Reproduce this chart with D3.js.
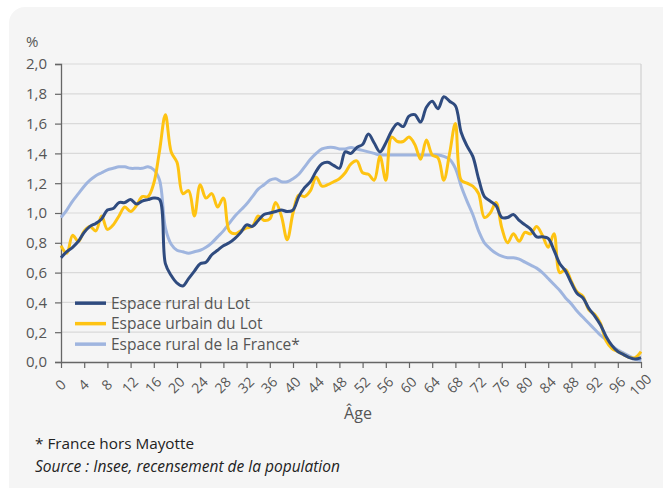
<!DOCTYPE html>
<html>
<head>
<meta charset="utf-8">
<script src="https://cdn.jsdelivr.net/npm/d3@7"></script>
<style>
  body { margin: 0; background: #fff; }
  svg { display: block; font-family: "Open Sans", sans-serif; }
</style>
</head>
<body>
<div id="chart"></div>
<script>
// ages 0..100
var ages = d3.range(0, 101)

var ruralLot = [0.70,0.74,0.77,0.81,0.87,0.91,0.93,0.96,1.02,1.03,
  1.07,1.07,1.09,1.06,1.08,1.09,1.10,1.09,0.66,0.58,
  0.53,0.51,0.56,0.61,0.66,0.67,0.72,0.75,0.78,0.80,
  0.83,0.87,0.92,0.91,0.95,0.99,1.00,1.01,1.02,1.01,
  1.02,1.11,1.17,1.21,1.28,1.33,1.34,1.32,1.30,1.41,
  1.40,1.44,1.46,1.53,1.47,1.41,1.47,1.55,1.60,1.58,
  1.65,1.66,1.61,1.71,1.75,1.70,1.78,1.75,1.72,1.54,
  1.45,1.38,1.23,1.11,1.08,1.05,0.97,0.97,0.99,0.95,
  0.92,0.89,0.84,0.84,0.83,0.75,0.66,0.61,0.53,0.46,
  0.43,0.36,0.31,0.25,0.17,0.11,0.07,0.05,0.03,0.02,
  0.03]

var urbainLot = [0.78,0.73,0.85,0.81,0.88,0.91,0.88,0.98,0.89,0.92,
  0.98,1.04,1.01,1.05,1.11,1.11,1.20,1.42,1.66,1.41,
  1.34,1.13,1.15,0.98,1.19,1.10,1.13,1.04,1.10,0.88,
  0.86,0.88,0.90,0.91,0.98,0.95,0.96,1.07,0.98,0.82,
  1.00,1.12,1.11,1.15,1.24,1.18,1.19,1.21,1.23,1.27,
  1.33,1.35,1.27,1.26,1.22,1.38,1.22,1.51,1.48,1.48,
  1.51,1.46,1.36,1.49,1.39,1.37,1.22,1.40,1.60,1.22,
  1.20,1.18,1.13,0.97,1.00,1.07,0.90,0.80,0.86,0.81,
  0.87,0.86,0.91,0.85,0.77,0.86,0.60,0.62,0.54,0.47,
  0.44,0.35,0.32,0.26,0.14,0.09,0.07,0.05,0.03,0.03,
  0.07]

var ruralFrance = [0.97,1.02,1.08,1.13,1.18,1.22,1.25,1.27,1.29,1.30,
  1.31,1.31,1.30,1.30,1.30,1.31,1.29,1.22,0.90,0.79,
  0.75,0.74,0.73,0.74,0.75,0.77,0.80,0.84,0.88,0.93,
  0.98,1.02,1.06,1.11,1.16,1.19,1.22,1.23,1.21,1.21,
  1.23,1.26,1.31,1.36,1.40,1.43,1.44,1.44,1.43,1.43,
  1.44,1.43,1.42,1.41,1.40,1.39,1.39,1.39,1.39,1.39,
  1.39,1.39,1.39,1.39,1.39,1.39,1.38,1.36,1.30,1.18,
  1.08,0.99,0.88,0.80,0.76,0.73,0.71,0.70,0.70,0.69,
  0.67,0.65,0.63,0.60,0.56,0.52,0.48,0.43,0.39,0.34,
  0.30,0.26,0.22,0.18,0.15,0.11,0.08,0.06,0.04,0.02,
  0.01]

var seriesNames = ["Espace rural du Lot", "Espace urbain du Lot", "Espace rural de la France*"]
var seriesColors = ["#2f4b7f", "#fec312", "#9fb5df"]
var yTicks = [0, 0.2, 0.4, 0.6, 0.8, 1.0, 1.2, 1.4, 1.6, 1.8, 2.0]
var xTicks = d3.range(0, 101, 4)

var W = 663, H = 488
var margin = { top: 64, right: 22, bottom: 126, left: 61 }
var width = W - margin.left - margin.right,
    height = H - margin.top - margin.bottom

var root = d3.select("#chart").append("svg")
  .attr("width", W)
  .attr("height", H)

// card background
root.append("rect")
  .attr("x", 9).attr("y", 7)
  .attr("width", 670).attr("height", 500)
  .attr("rx", 16)
  .attr("fill", "#f5f5f5")

var svg = root.append("g")
  .attr("transform", `translate(${margin.left},${margin.top})`)

var x = d3.scaleLinear().domain([0, 100]).range([0, width])
var y = d3.scaleLinear().domain([0, 2]).range([height, 0])

// gridlines
svg.append("g")
  .selectAll("line")
  .data(yTicks.filter(d => d > 0))
  .enter().append("line")
  .attr("x1", 0).attr("x2", width)
  .attr("y1", d => y(d)).attr("y2", d => y(d))
  .attr("stroke", "#d9d9d9")
  .attr("stroke-width", 1.2)

// right border
svg.append("line")
  .attr("x1", width).attr("x2", width)
  .attr("y1", 0).attr("y2", height)
  .attr("stroke", "#d0d0d0")
  .attr("stroke-width", 1.2)

// y axis
var yAxis = svg.append("g")
  .call(d3.axisLeft(y).tickValues(yTicks).tickSize(6).tickPadding(8)
    .tickFormat(d => d3.format(".1f")(d).replace(".", ",")))
yAxis.select(".domain").attr("stroke", "#666").attr("stroke-width", 1.3)
yAxis.selectAll(".tick line").attr("stroke", "#666").attr("stroke-width", 1.2)
yAxis.selectAll("text").attr("fill", "#555").style("font-size", "15px")
  .style("font-family", "'Open Sans', sans-serif")

// x axis
var xAxis = svg.append("g")
  .attr("transform", `translate(0,${height})`)
  .call(d3.axisBottom(x).tickValues(xTicks).tickSize(6).tickSizeOuter(0))
xAxis.select(".domain").attr("stroke", "#666").attr("stroke-width", 1.3)
xAxis.selectAll(".tick line").attr("stroke", "#666").attr("stroke-width", 1.2)
xAxis.selectAll("text")
  .attr("fill", "#555")
  .style("font-size", "14px")
  .style("font-family", "'Open Sans', sans-serif")
  .style("text-anchor", "middle")
  .attr("x", 0).attr("y", 0)
  .attr("dy", "0.35em")
  .attr("transform", "translate(-1,23) rotate(-45)")

// lines
var line = d3.line()
  .x(d => x(d[0]))
  .y(d => y(d[1]))
  .curve(d3.curveCatmullRom.alpha(0.5))

var allSeries = [ruralLot, urbainLot, ruralFrance]
// draw France first, then urban, then rural Lot on top
var order = [2, 1, 0]
order.forEach(function (i) {
  svg.append("path")
    .datum(ages.map((a, k) => [a, allSeries[i][k]]))
    .attr("fill", "none")
    .attr("stroke", seriesColors[i])
    .attr("stroke-width", 3)
    .attr("stroke-linejoin", "round")
    .attr("d", line)
})

// legend
var legend = svg.append("g")
  .attr("transform", `translate(14,${y(0.395)})`)
seriesNames.forEach(function (name, i) {
  var g = legend.append("g").attr("transform", `translate(0,${i * 20.5})`)
  g.append("line")
    .attr("x1", 0).attr("x2", 31)
    .attr("stroke", seriesColors[i])
    .attr("stroke-width", 3.5)
  g.append("text")
    .attr("x", 36).attr("y", 0)
    .attr("dy", "0.35em")
    .attr("fill", "#555")
    .style("font-size", "15.5px")
    .text(name)
})

// unit
root.append("text")
  .attr("x", 26).attr("y", 47)
  .attr("fill", "#555")
  .style("font-size", "15px")
  .text("%")

// axis title
root.append("text")
  .attr("x", margin.left + width / 2 + 7).attr("y", 419)
  .attr("text-anchor", "middle")
  .attr("fill", "#555")
  .style("font-size", "16px")
  .text("Âge")

// notes
root.append("text")
  .attr("x", 35).attr("y", 449)
  .attr("fill", "#222")
  .style("font-size", "15.3px")
  .text("* France hors Mayotte")
root.append("text")
  .attr("x", 35).attr("y", 472)
  .attr("fill", "#222")
  .style("font-size", "15.5px")
  .style("font-style", "italic")
  .text("Source : Insee, recensement de la population")
</script>
</body>
</html>
